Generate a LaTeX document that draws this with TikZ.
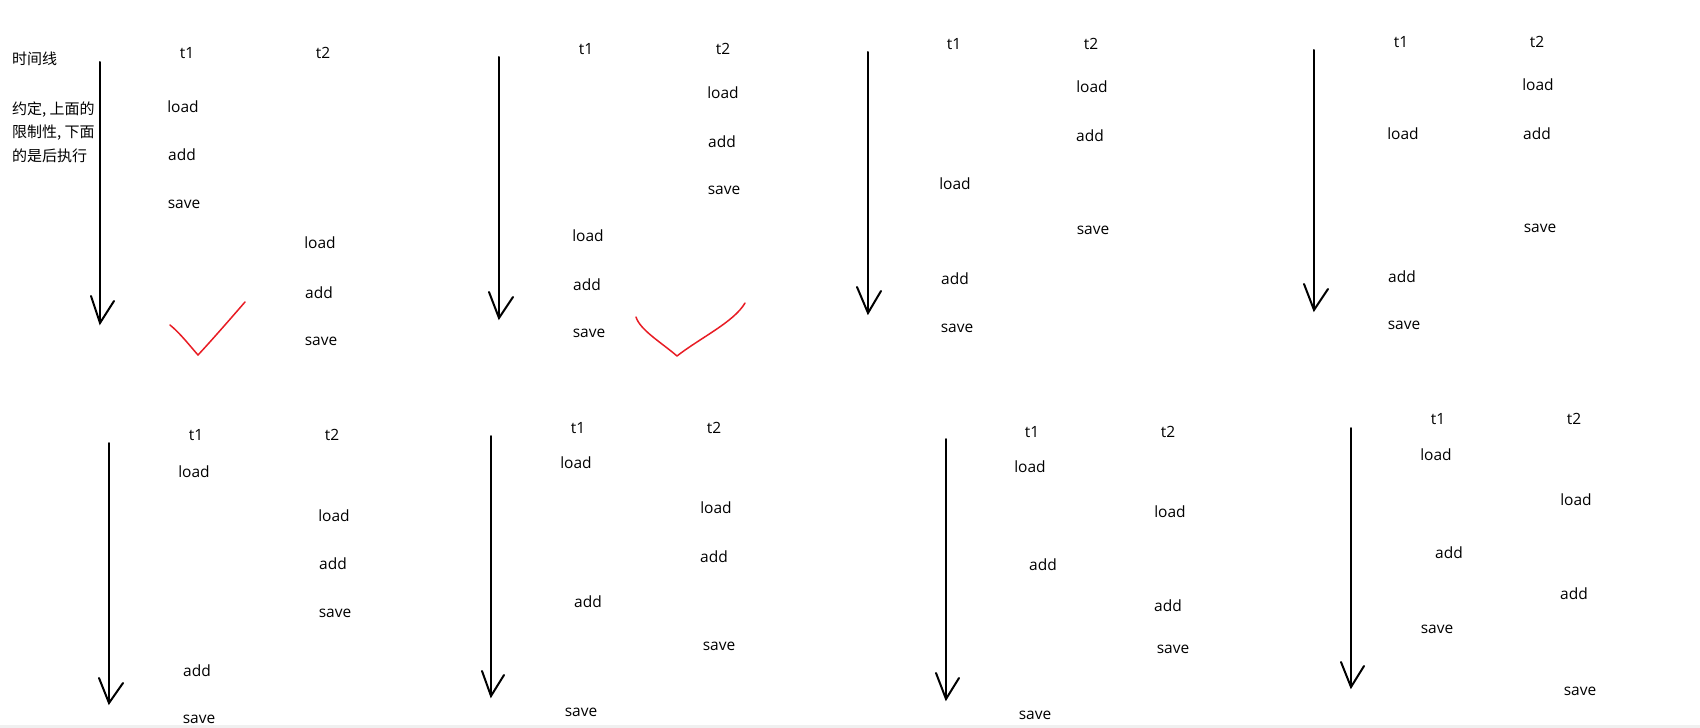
\documentclass[tikz,border=0pt]{standalone}
\usepackage{fontspec}
\setmainfont{Open Sans}
\newfontfamily\cjk{Noto Sans CJK SC}
\definecolor{chk}{RGB}{232,28,36}
\definecolor{strip}{RGB}{240,240,240}
\tikzset{
  op/.style={anchor=base, inner sep=0pt, font=\fontsize{15.5}{18}\selectfont},
  note/.style={anchor=base west, inner sep=0pt, font=\cjk\fontsize{15}{18}\selectfont},
  timeline/.style={draw=black, line width=2pt, line cap=round},
  barb/.style={draw=black, line width=2pt, line cap=round},
  tick/.style={draw=chk, line width=1.5pt, line cap=round, line join=round}
}
\begin{document}
\begin{tikzpicture}[x=1pt,y=-1pt]
\useasboundingbox (0,0) rectangle (1700,728);
\fill[white] (0,0) rectangle (1700,725);
\fill[strip] (0,725) rectangle (1700,728);

% ---------- notes ----------
\node[note] (n0) at (12,64) {时间线};
\node[note] (n1) at (12,114) {约定, 上面的};
\node[note] (n2) at (12,137) {限制性, 下面};
\node[note] (n3) at (12,161) {的是后执行};

% ---------- timelines ----------
\foreach \nm/\x/\ya/\yb/\lx/\ly/\rx/\ry in {
  aT1/100/62/323/91/296/114/301,
  aT2/499/57/318/489/292/513/297,
  aT3/868/52/313/857/287/881/291,
  aT4/1314/50/310/1304/284/1328/289,
  aB1/109/443/703/99/678/123/683,
  aB2/491/436/696/482/671/504/675,
  aB3/946/439/699/936/673/959/678,
  aB4/1351/428/687/1341/662/1364/666}{
  \coordinate (\nm-top) at (\x,\ya);
  \coordinate (\nm-tip) at (\x,\yb);
  \coordinate (\nm-l) at (\lx,\ly);
  \coordinate (\nm-r) at (\rx,\ry);
  \draw[timeline] (\nm-top) -- (\nm-tip);
  \draw[barb] (\nm-l) -- (\nm-tip) -- (\nm-r);
}

% ---------- panel T1 ----------
\node[op] (p1t1) at (187,58) {t1};
\node[op] (p1t2) at (323,58) {t2};
\node[op] (p1la) at (183,112) {load};
\node[op] (p1aa) at (182,160) {add};
\node[op] (p1sa) at (184,208) {save};
\node[op] (p1lb) at (320,248) {load};
\node[op] (p1ab) at (319,298) {add};
\node[op] (p1sb) at (321,345) {save};

% ---------- panel T2 ----------
\node[op] (p2t1) at (586,54) {t1};
\node[op] (p2t2) at (723,54) {t2};
\node[op] (p2lb) at (723,98) {load};
\node[op] (p2ab) at (722,147) {add};
\node[op] (p2sb) at (724,194) {save};
\node[op] (p2la) at (588,241) {load};
\node[op] (p2aa) at (587,290) {add};
\node[op] (p2sa) at (589,337) {save};

% ---------- panel T3 ----------
\node[op] (p3t1) at (954,49) {t1};
\node[op] (p3t2) at (1091,49) {t2};
\node[op] (p3lb) at (1092,92) {load};
\node[op] (p3ab) at (1090,141) {add};
\node[op] (p3sb) at (1093,234) {save};
\node[op] (p3la) at (955,189) {load};
\node[op] (p3aa) at (955,284) {add};
\node[op] (p3sa) at (957,332) {save};

% ---------- panel T4 ----------
\node[op] (p4t1) at (1401,47) {t1};
\node[op] (p4t2) at (1537,47) {t2};
\node[op] (p4lb) at (1538,90) {load};
\node[op] (p4ab) at (1537,139) {add};
\node[op] (p4sb) at (1540,232) {save};
\node[op] (p4la) at (1403,139) {load};
\node[op] (p4aa) at (1402,282) {add};
\node[op] (p4sa) at (1404,329) {save};

% ---------- panel B1 ----------
\node[op] (q1t1) at (196,440) {t1};
\node[op] (q1t2) at (332,440) {t2};
\node[op] (q1la) at (194,477) {load};
\node[op] (q1lb) at (334,521) {load};
\node[op] (q1ab) at (333,569) {add};
\node[op] (q1sb) at (335,617) {save};
\node[op] (q1aa) at (197,676) {add};
\node[op] (q1sa) at (199,723) {save};

% ---------- panel B2 ----------
\node[op] (q2t1) at (578,433) {t1};
\node[op] (q2t2) at (714,433) {t2};
\node[op] (q2la) at (576,468) {load};
\node[op] (q2lb) at (716,513) {load};
\node[op] (q2ab) at (714,562) {add};
\node[op] (q2aa) at (588,607) {add};
\node[op] (q2sb) at (719,650) {save};
\node[op] (q2sa) at (581,716) {save};

% ---------- panel B3 ----------
\node[op] (q3t1) at (1032,437) {t1};
\node[op] (q3t2) at (1168,437) {t2};
\node[op] (q3la) at (1030,472) {load};
\node[op] (q3lb) at (1170,517) {load};
\node[op] (q3aa) at (1043,570) {add};
\node[op] (q3ab) at (1168,611) {add};
\node[op] (q3sb) at (1173,653) {save};
\node[op] (q3sa) at (1035,719) {save};

% ---------- panel B4 ----------
\node[op] (q4t1) at (1438,424) {t1};
\node[op] (q4t2) at (1574,424) {t2};
\node[op] (q4la) at (1436,460) {load};
\node[op] (q4lb) at (1576,505) {load};
\node[op] (q4aa) at (1449,558) {add};
\node[op] (q4ab) at (1574,599) {add};
\node[op] (q4sa) at (1437,633) {save};
\node[op] (q4sb) at (1580,695) {save};

% ---------- red ticks ----------
\coordinate (k1a) at (170,325);
\coordinate (k1b) at (198,355);
\coordinate (k1c) at (245,302);
\draw[tick] (k1a) .. controls (180,333) and (190,346) .. (k1b)
            .. controls (212,340) and (232,317) .. (k1c);
\coordinate (k2a) at (636,317);
\coordinate (k2b) at (677,356);
\coordinate (k2c) at (745,303);
\draw[tick] (k2a) .. controls (640,330) and (662,343) .. (k2b)
            .. controls (700,338) and (734,322) .. (k2c);
\end{tikzpicture}
\end{document}
